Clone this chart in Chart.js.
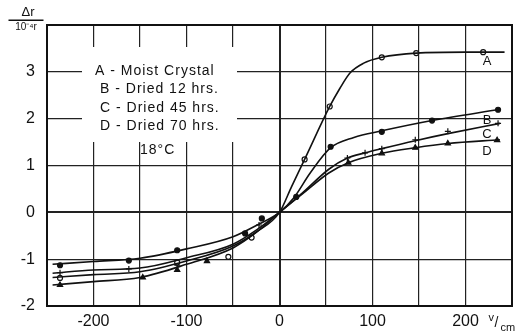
<html>
<head>
<script src="https://cdn.jsdelivr.net/npm/chart.js"></script>
<style>
  body { margin: 0; background: #fff; }
</style>
</head>
<body>
<canvas id="myChart" width="521" height="336"></canvas>
<script>
// curves
var curveAx = [-244, -200, -150, -100, -50, -25, 0, 13, 27, 54, 65, 76, 90, 110, 147, 200, 242];
var curveAy = [-1.39, -1.33, -1.27, -1.04, -0.72, -0.42, 0, 0.55, 1.13, 2.26, 2.65, 2.98, 3.18, 3.31, 3.40, 3.42, 3.42];
var curveBx = [-244, -200, -150, -100, -50, -25, 0, 15, 33, 55, 80, 110, 164, 237];
var curveBy = [-1.11, -1.05, -0.98, -0.78, -0.52, -0.28, 0, 0.30, 0.84, 1.38, 1.60, 1.74, 1.96, 2.20];
var curveCx = [-244, -200, -150, -100, -50, -25, 0, 25, 53, 73, 92, 110, 146, 181, 237];
var curveCy = [-1.30, -1.23, -1.19, -0.97, -0.68, -0.38, 0, 0.42, 0.92, 1.16, 1.27, 1.36, 1.53, 1.68, 1.90];
var curveDx = [-244, -200, -150, -100, -50, -25, 0, 25, 53, 74, 110, 146, 181, 237];
var curveDy = [-1.55, -1.48, -1.39, -1.11, -0.76, -0.43, 0, 0.40, 0.84, 1.06, 1.26, 1.38, 1.47, 1.55];

// measured points
var ptAx = [-236, -110, -55, -30, 27, 54, 110, 147, 219];
var ptAy = [-1.40, -1.07, -0.95, -0.54, 1.13, 2.26, 3.31, 3.40, 3.42];
var ptBx = [-236, -162, -110, -37, -19, 18, 55, 110, 164, 235];
var ptBy = [-1.13, -1.03, -0.81, -0.45, -0.13, 0.33, 1.40, 1.72, 1.96, 2.19];
var ptCx = [-236, -162, -110, -22, 73, 92, 110, 146, 181, 235];
var ptCy = [-1.29, -1.21, -1.13, -0.27, 1.16, 1.27, 1.36, 1.55, 1.73, 1.90];
var ptDx = [-236, -147, -110, -78, 74, 110, 146, 181, 234];
var ptDy = [-1.55, -1.39, -1.23, -1.04, 1.06, 1.26, 1.38, 1.47, 1.54];

var legendLines = ['A - Moist Crystal', 'B - Dried 12 hrs.', 'C - Dried 45 hrs.', 'D - Dried 70 hrs.'];
var tempLabel = '18°C';
var curveNames = ['A', 'B', 'C', 'D'];
var curveLabelY = [3.22, 1.97, 1.66, 1.30];

function pts(xs, ys) {
    return xs.map(function (x, i) { return { x: x, y: ys[i] }; });
}

function curve(xs, ys) {
    return {
        data: pts(xs, ys), showLine: true, pointRadius: 0,
        borderColor: '#111', borderWidth: 1.6,
        cubicInterpolationMode: 'monotone'
    };
}

function marks(xs, ys, style, fill, r) {
    return {
        data: pts(xs, ys), showLine: false, pointStyle: style,
        pointRadius: r, pointBackgroundColor: fill,
        pointBorderColor: '#111', pointBorderWidth: 1.2
    };
}

var notes = {
    id: 'notes',
    beforeDatasetsDraw: function (chart) {
        var c = chart.ctx;
        c.save();
        c.fillStyle = '#fff';
        c.fillRect(82, 47, 155, 95);
        c.restore();
    },
    afterDraw: function (chart) {
        var c = chart.ctx, a = chart.chartArea;
        var xs = chart.scales.x, ys = chart.scales.y;
        c.save();
        // frame round the plot
        c.strokeStyle = '#111';
        c.lineWidth = 2;
        c.strokeRect(a.left, a.top, a.right - a.left, a.bottom - a.top);
        c.fillStyle = '#111';
        c.textBaseline = 'middle';
        c.font = '14px "Liberation Sans"';
        c.letterSpacing = '1px';
        c.textAlign = 'left';
        var rowY = [71, 89, 108, 126];
        legendLines.forEach(function (t, i) {
            c.fillText(t, i === 0 ? 95 : 100, rowY[i]);
        });
        c.fillText(tempLabel, 140, 150);
        c.letterSpacing = '0px';
        c.font = '13px "Liberation Sans"';
        c.textAlign = 'center';
        curveNames.forEach(function (n, i) {
            c.fillText(n, 487, ys.getPixelForValue(curveLabelY[i]));
        });
        // y axis title
        c.font = '13px "Liberation Sans"';
        c.fillText('\u0394r', 28, 12);
        c.lineWidth = 1;
        c.strokeRect(9, 20, 34, 0.5);
        c.font = '10px "Liberation Sans"';
        c.fillText('10\u207B\u2074r', 26, 27);
        // x unit
        var x200 = xs.getPixelForValue(200);
        c.textAlign = 'left';
        c.font = '11px "Liberation Sans"';
        c.fillText('v', x200 + 23, 318);
        c.font = '14px "Liberation Sans"';
        c.fillText('/', x200 + 29, 323);
        c.font = '11px "Liberation Sans"';
        c.fillText('cm', x200 + 35, 328);
        c.restore();
    }
};

var ctx = document.getElementById('myChart').getContext('2d');
window.myLine = new Chart(ctx, {
    type: 'scatter',
    data: {
        datasets: [
            curve(curveAx, curveAy),
            curve(curveBx, curveBy),
            curve(curveCx, curveCy),
            curve(curveDx, curveDy),
            marks(ptAx, ptAy, 'circle', '#fff', 2.5),
            marks(ptBx, ptBy, 'circle', '#111', 2.5),
            marks(ptCx, ptCy, 'cross', '#111', 3),
            marks(ptDx, ptDy, 'triangle', '#111', 3)
        ]
    },
    options: {
        responsive: false,
        animation: false,
        layout: { padding: { top: 25, right: 9, left: 0, bottom: 0 } },
        plugins: { legend: { display: false }, tooltip: { enabled: false } },
        scales: {
            x: {
                type: 'linear', min: -250, max: 250,
                afterFit: function (s) { s.height = 30; },
                ticks: {
                    stepSize: 50, autoSkip: false, maxRotation: 0, padding: 6,
                    color: '#111', font: { family: 'Liberation Sans', size: 16 },
                    callback: function (v) { return v % 100 === 0 ? String(v) : ''; }
                },
                grid: {
                    color: '#222', drawTicks: false,
                    lineWidth: function (c) { return c.tick && c.tick.value === 0 ? 2 : 1.2; }
                },
                border: { display: true, color: '#111', width: 2 }
            },
            y: {
                min: -2, max: 4,
                afterFit: function (s) { s.width = 47; },
                ticks: {
                    stepSize: 1, padding: 12,
                    color: '#111', font: { family: 'Liberation Sans', size: 16 },
                    callback: function (v) { return v === 4 ? '' : String(v); }
                },
                grid: {
                    color: '#222', drawTicks: false,
                    lineWidth: function (c) { return c.tick && c.tick.value === 0 ? 2 : 1.2; }
                },
                border: { display: true, color: '#111', width: 2 }
            }
        }
    },
    plugins: [notes]
});
</script>
</body>
</html>
